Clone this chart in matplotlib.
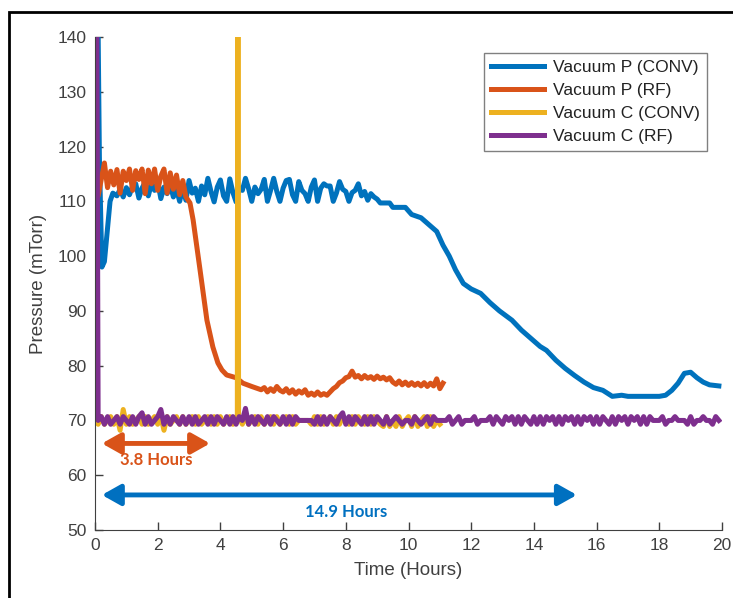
#!/usr/bin/env python3

import numpy as np
import matplotlib.pyplot as plt
from matplotlib.patches import Rectangle

# colours (MATLAB default line order)
C_BLUE = "#0072BD"
C_ORANGE = "#D95319"
C_YELLOW = "#EDB120"
C_PURPLE = "#7E2F8E"

#==============================================================================
# Vacuum P (CONV)
blue_start_t = [0.10, 0.14, 0.22, 0.30, 0.40, 0.48, 0.57]
blue_start_p = [141.0, 118.0, 98.0, 99.0, 105.0, 110.0, 111.5]
blue_noise_t0 = 0.7  # hours, sampled every 0.1 h
blue_noise_p = [111.0, 112.2, 110.8, 112.5, 111.2, 112.8, 113.2, 110.6, 112.4, 113.5,
                111.0, 113.2, 112.0, 113.6, 110.5, 112.6, 111.4, 113.0, 110.8, 112.2,
                110.0, 112.5, 110.2, 113.8, 111.5, 112.4, 110.0, 112.8, 111.2, 114.2,
                111.8, 109.9, 112.6, 113.9, 111.0, 110.0, 114.1, 111.6, 109.9, 112.5,
                112.0, 114.2, 112.3, 110.0, 112.6, 111.4, 112.2, 114.0, 110.0, 112.0,
                114.2, 111.8, 110.0, 112.4, 113.8, 114.0, 111.2, 110.0, 113.6, 112.0,
                111.4, 110.0, 112.6, 113.9, 110.0, 112.4, 113.2, 112.8, 112.8, 110.0,
                111.5, 113.6, 112.2, 111.8, 110.0, 111.6, 112.0, 113.2, 111.0, 111.8,
                110.2, 111.4, 110.8, 110.4]
blue_end_t = [9.1, 9.4, 9.5, 9.9, 10.1, 10.4, 10.6, 10.9, 11.1, 11.3, 11.5, 11.75,
              12.0, 12.3, 12.6, 12.9, 13.3, 13.6, 13.9, 14.2, 14.4, 14.7, 15.0, 15.3,
              15.6, 15.9, 16.2, 16.5, 16.8, 17.0, 17.5, 18.0, 18.2, 18.4, 18.6, 18.8,
              19.0, 19.2, 19.4, 19.6, 19.9]
blue_end_p = [109.7, 109.7, 108.9, 108.9, 107.6, 107.0, 106.0, 104.5, 102.0, 100.0,
              97.5, 95.0, 94.0, 93.2, 91.5, 90.0, 88.3, 86.5, 85.0, 83.5, 82.8, 81.0,
              79.5, 78.2, 77.0, 76.0, 75.5, 74.4, 74.6, 74.4, 74.4, 74.4, 74.6, 75.5,
              76.8, 78.6, 78.8, 77.8, 77.0, 76.5, 76.3]

# Vacuum P (RF)
orange_start_t = [0.0, 0.03, 0.06]
orange_start_p = [141.0, 141.0, 111.0]
orange_noise_t0 = 0.1
orange_noise_p = [111.0, 114.0, 117.0, 112.5, 115.5, 113.0, 115.8, 111.5, 115.5, 113.8,
                  115.9, 112.0, 115.6, 114.0, 115.9, 111.4, 115.7, 113.2, 115.9, 112.0,
                  114.6, 115.9, 111.5, 115.2, 112.2, 114.8, 111.2, 113.8, 110.8]
orange_drop_t = [3.03, 3.13, 3.35, 3.57, 3.76, 3.92, 4.05, 4.2, 4.5, 4.72, 5.0]
orange_drop_p = [109.7, 106.6, 97.5, 88.3, 83.4, 80.5, 79.2, 78.3, 77.8, 76.8, 76.2]
orange_tail_t0 = 5.3
orange_tail_p = [75.6, 76.0, 75.2, 75.8, 75.3, 76.2, 75.5,
                 75.2, 75.8, 75.0, 75.6, 74.8, 75.4, 75.0, 75.6, 74.6, 75.0,
                 74.6, 75.2, 74.6, 74.9, 74.6, 75.2, 75.8, 76.2, 76.9, 77.2,
                 77.8, 78.0, 79.0, 77.9, 78.2, 77.6, 78.2, 77.7, 78.0, 77.5,
                 78.1, 77.6, 77.9, 77.4, 77.8, 77.0, 76.6, 77.2, 76.5, 77.0,
                 76.4, 76.9, 76.4, 76.8, 76.3, 76.9, 76.2, 76.8, 76.3, 77.6,
                 75.8, 76.8]

# Vacuum C (CONV)
yellow_start_t = [0.0, 0.02]
yellow_start_p = [119.0, 70.0]
yellow_a_t0 = 0.1
yellow_a_p = [69.3, 70.7, 69.3, 70.0, 70.7, 69.3, 70.7, 68.2, 72.0, 69.3,
              70.7, 69.3, 70.0, 70.7, 69.3, 70.7, 69.3, 70.0, 70.7, 69.3,
              70.7, 68.2, 70.7, 69.3, 70.0, 70.7, 69.3, 70.7, 69.3, 70.0,
              70.7, 69.3, 70.7, 69.3, 70.0, 70.7, 69.3, 70.7, 69.3, 70.7,
              69.3, 70.0, 70.7, 69.3, 70.0]
yellow_spike_t = [4.54, 4.56, 4.58]
yellow_spike_p = [70.0, 200.0, 70.0]
yellow_b_t0 = 4.6
yellow_b_p = [70.7, 69.3, 70.7, 69.3, 70.0, 70.7, 69.3, 70.7, 69.3, 70.0,
              70.7, 69.3, 70.7, 69.3, 70.0, 70.7, 69.3, 70.7, 69.3, 70.0,
              70.0, 70.0, 70.0, 69.3, 70.7, 69.3, 70.7, 69.3, 70.0, 70.7,
              69.3, 70.7, 69.3, 70.7, 70.0, 69.3, 70.7, 69.3, 70.7, 70.0,
              69.3, 70.7, 69.3, 70.7, 70.0, 69.3, 68.9, 70.7, 68.9, 70.0,
              68.9, 70.7, 68.9, 70.0, 70.7, 68.9, 70.7, 68.9, 70.0, 70.7,
              68.9, 70.7, 68.9, 70.0, 69.3]

# Vacuum C (RF)
purple_start_t = [0.0, 0.06, 0.1]
purple_start_p = [141.0, 141.0, 70.0]
purple_noise_t0 = 0.2
purple_noise_p = [70.7, 69.3, 70.7, 69.3, 70.0, 70.7, 69.3, 70.7, 70.0, 69.3,
                  70.7, 69.3, 70.7, 71.4, 69.3, 70.7, 69.3, 70.0, 70.7, 72.0,
                  69.3, 70.7, 69.3, 70.7, 70.0, 69.3, 70.7, 69.3, 70.7, 69.3,
                  70.7, 69.3, 70.0, 70.7, 69.3, 70.7, 69.3, 70.7, 70.0, 69.3,
                  70.7, 69.3, 70.7, 69.3, 70.7, 70.0, 72.2, 69.3, 70.7, 69.3,
                  70.7, 70.0, 69.3, 70.7, 69.3, 70.7, 70.0, 69.3, 70.7, 69.3,
                  70.7, 69.3, 70.7, 70.0, 70.0, 70.0, 70.0, 70.0, 69.3, 70.7,
                  69.3, 70.7, 69.3, 70.7, 70.0, 69.3, 70.7, 71.4, 69.3, 70.7,
                  69.3, 70.7, 70.0, 69.3, 70.7, 69.3, 70.7, 69.3, 70.7, 70.0,
                  69.3, 70.7, 69.3, 70.0, 70.7, 70.0, 69.3, 70.0, 70.0, 69.3,
                  70.7, 70.0, 69.3, 70.0, 70.7, 69.3, 70.7, 70.0, 70.0, 70.0,
                  70.0, 70.7, 69.3, 70.0, 70.7, 69.3, 70.0, 70.0, 70.0, 70.7,
                  69.3, 70.0, 70.0, 70.0, 70.7, 69.3, 70.7, 70.0, 69.3, 70.7,
                  70.0, 70.7, 69.3, 70.7, 69.3, 70.7, 70.0, 69.3, 70.7, 69.3,
                  70.7, 69.3, 70.7, 70.0, 70.7, 69.3, 70.7, 69.3, 70.7, 70.0,
                  70.7, 69.3, 70.7, 69.3, 70.7, 70.0, 70.7, 69.3, 70.7, 69.3,
                  70.7, 70.0, 69.3, 70.7, 69.3, 70.7, 70.0, 70.7, 69.3, 70.7,
                  70.0, 70.7, 69.3, 70.7, 69.3, 70.7, 70.0, 70.0, 70.0, 70.7,
                  69.3, 70.0, 70.0, 70.7, 70.0, 70.0, 70.0, 69.3, 70.7, 69.3,
                  70.0, 70.0, 70.7, 70.0, 70.0, 69.3, 70.7, 70.0]

# duration arrows (start h, end h, y in mTorr) and their labels (x h, y mTorr)
RF_ARROW = (0.22, 3.67, 65.8)
CONV_ARROW = (0.22, 15.37, 56.4)
RF_LABEL = ("3.8 Hours", 1.95, 62.8)
CONV_LABEL = ("14.9 Hours", 8.0, 53.2)

#==============================================================================

def sampled(t0, vals):
    return list(t0 + 0.1 * np.arange(len(vals)))

blue_t = blue_start_t + sampled(blue_noise_t0, blue_noise_p) + blue_end_t
blue_p = blue_start_p + blue_noise_p + blue_end_p

orange_t = (orange_start_t + sampled(orange_noise_t0, orange_noise_p)
            + orange_drop_t + sampled(orange_tail_t0, orange_tail_p))
orange_p = orange_start_p + orange_noise_p + orange_drop_p + orange_tail_p

yellow_t = (yellow_start_t + sampled(yellow_a_t0, yellow_a_p) + yellow_spike_t
            + sampled(yellow_b_t0, yellow_b_p))
yellow_p = yellow_start_p + yellow_a_p + yellow_spike_p + yellow_b_p

purple_t = purple_start_t + sampled(purple_noise_t0, purple_noise_p)
purple_p = purple_start_p + purple_noise_p

plt.rcParams['font.family'] = ['Liberation Sans', 'DejaVu Sans']
TXT = "#404040"

fig = plt.figure(figsize=(7.33, 5.98), dpi=100)
ax = fig.add_axes([95 / 733, 68 / 598, 627 / 733, 493 / 598])

LW = 3.6
ax.plot(blue_t, blue_p, color=C_BLUE, lw=LW, label="Vacuum P (CONV)")
ax.plot(orange_t, orange_p, color=C_ORANGE, lw=LW, label="Vacuum P (RF)")
ax.plot(yellow_t, yellow_p, color=C_YELLOW, lw=LW, label="Vacuum C (CONV)")
ax.plot(purple_t, purple_p, color=C_PURPLE, lw=LW, label="Vacuum C (RF)")

ax.set_xlim(0, 20)
ax.set_ylim(50, 140)
ax.set_xticks(np.arange(0, 21, 2))
ax.set_yticks(np.arange(50, 141, 10))
ax.tick_params(direction='in', length=6, width=1, colors=TXT, labelsize=12.5, pad=6)
for s in ['top', 'right']:
    ax.spines[s].set_visible(False)
for s in ['left', 'bottom']:
    ax.spines[s].set_color(TXT)
ax.set_xlabel("Time (Hours)", fontsize=13.5, color=TXT, labelpad=6)
ax.set_ylabel("Pressure (mTorr)", fontsize=13.5, color=TXT, labelpad=8)

# duration arrows
for (x0, x1, y), (txt, tx, ty), col in [(RF_ARROW, RF_LABEL, C_ORANGE),
                                        (CONV_ARROW, CONV_LABEL, "#0070C0")]:
    ax.annotate('', xy=(x0, y), xytext=(x1, y),
                arrowprops=dict(arrowstyle='<|-|>,head_length=0.8,head_width=0.45',
                                color=col, lw=3.5, shrinkA=0, shrinkB=0,
                                mutation_scale=14))
    ax.text(tx, ty, txt, color=col, fontsize=12, fontweight='bold',
            family=['Lato', 'DejaVu Sans'], ha='center', va='center')

leg = ax.legend(loc='upper right', bbox_to_anchor=(0.976, 0.9675), borderaxespad=0,
                fontsize=12.5, handlelength=3.1, handletextpad=0.5, fancybox=False,
                framealpha=1, edgecolor='#808080', labelspacing=0.45, borderpad=0.4)
leg.get_frame().set_linewidth(1.0)
for t in leg.get_texts():
    t.set_color('#222222')

# outer border of the original figure
fig.add_artist(Rectangle((9 / 733, -0.05), 1.0, 1.05 - 12 / 598, transform=fig.transFigure,
                         fill=False, edgecolor='black', lw=2))

fig.savefig("out.png", dpi=100)
